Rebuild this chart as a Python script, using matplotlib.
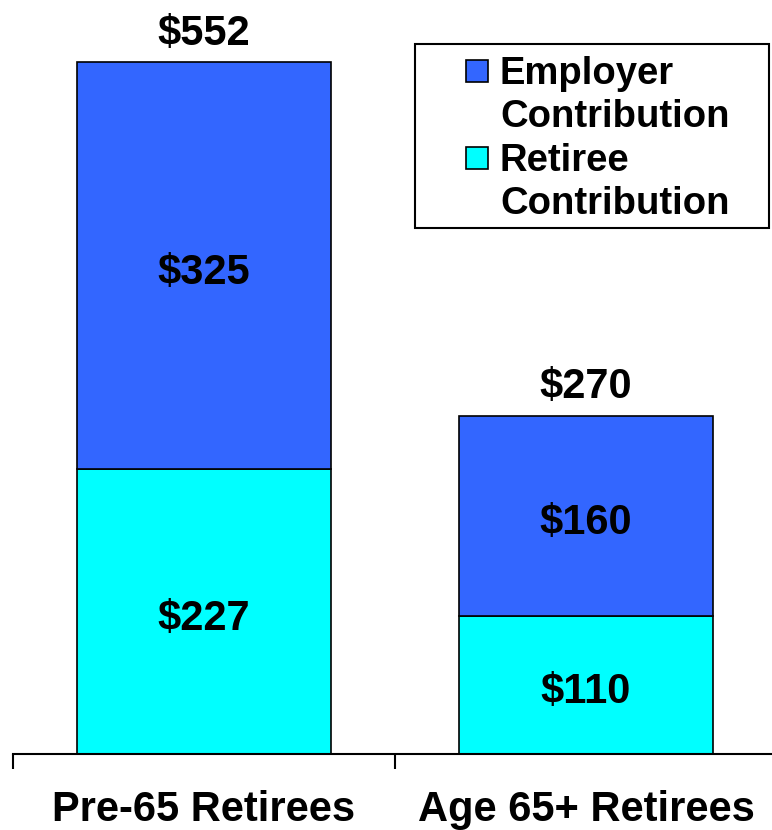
import matplotlib.pyplot as plt
from matplotlib.patches import Rectangle

# Data
categories = ["Pre-65 Retirees", "Age 65+ Retirees"]
retiree = [227, 110]
employer = [325, 160]
series_names = ["Employer\nContribution", "Retiree\nContribution"]

EMP_COLOR = "#3366FF"
RET_COLOR = "#00FFFF"
BOLD = ["Liberation Sans", "DejaVu Sans"]

W, H = 772, 830
fig = plt.figure(figsize=(W / 100, H / 100), dpi=100)

# main axes: baseline at y=754px, ~1.254 px per dollar
px_per_unit = 692 / 552
ax = fig.add_axes([13 / W, (H - 754) / H, 764 / W, 754 / H])
x = list(range(len(categories)))
ax.bar(x, retiree, width=0.666, color=RET_COLOR, edgecolor="black", linewidth=1.2)
ax.bar(x, employer, width=0.666, bottom=retiree, color=EMP_COLOR,
       edgecolor="black", linewidth=1.2)
ax.set_xlim(-0.5, 1.5)
ax.set_ylim(0, 754 / px_per_unit)

for i in x:
    ax.annotate(f"${retiree[i]}", (i, retiree[i] / 2), xytext=(0, -5),
                textcoords="offset points", ha="center", va="center",
                fontsize=30, fontweight="bold", family=BOLD)
    ax.annotate(f"${employer[i]}", (i, retiree[i] + employer[i] / 2), xytext=(0, -5),
                textcoords="offset points", ha="center", va="center",
                fontsize=30, fontweight="bold", family=BOLD)
    tot = retiree[i] + employer[i]
    ax.annotate(f"${tot}", (i, tot), xytext=(0, 6), textcoords="offset points",
                ha="center", va="bottom", fontsize=30, fontweight="bold", family=BOLD)

for s in ["left", "top", "right"]:
    ax.spines[s].set_visible(False)
ax.spines["bottom"].set_linewidth(1.5)
ax.set_yticks([])
ax.set_xticks(x)
ax.set_xticklabels(categories, fontsize=30, fontweight="bold", family=BOLD)
ax.tick_params(axis="x", which="major", length=0, pad=26)
ax.set_xticks([-0.5, 0.5, 1.5], minor=True)
ax.tick_params(axis="x", which="minor", length=11, width=1.5, direction="out")

# legend drawn in pixel coordinates
lg = fig.add_axes([0, 0, 1, 1])
lg.set_xlim(0, W)
lg.set_ylim(H, 0)
lg.axis("off")
lg.add_patch(Rectangle((415, 44), 354, 184, facecolor="white", edgecolor="black", linewidth=1.5))
for name, color, ytop in [(series_names[0], EMP_COLOR, 60), (series_names[1], RET_COLOR, 147)]:
    lg.add_patch(Rectangle((466, ytop), 22, 22, facecolor=color, edgecolor="black", linewidth=1.2))
    lg.text(500, ytop - 4, name, ha="left", va="top", fontsize=27.5, fontweight="bold",
            family=BOLD, linespacing=1.25)

fig.savefig("out.png", dpi=100)
